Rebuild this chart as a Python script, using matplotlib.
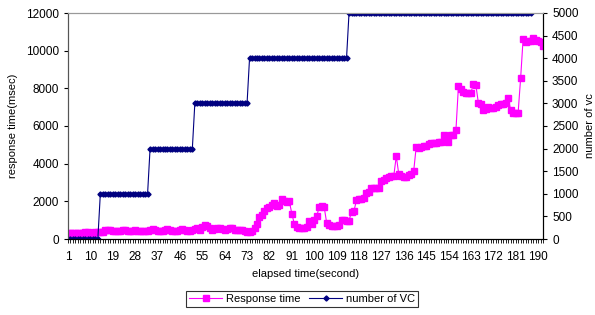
import numpy as np
import matplotlib
matplotlib.use("Agg")
import matplotlib.pyplot as plt

plt.rcParams['font.family'] = ['Liberation Sans', 'DejaVu Sans']

# response time (msec), one value per second
resp_a = [320, 330, 340, 330, 320, 340, 330, 350, 360, 340, 330, 350,
          380, 350, 380, 470, 500, 480, 420, 400,
          410, 440, 500, 480, 430, 420, 440, 480, 450, 420,
          410, 400, 430, 470, 520, 460, 420, 400, 410, 470,
          520, 480, 440, 430, 450, 480, 520, 490, 420, 440,
          460, 520, 560, 500, 620, 760, 700, 560, 500, 520,
          600, 560, 520, 480, 520, 600, 560, 500, 460, 500,
          460, 420, 380, 360, 420, 600]
resp_b = [800, 1150, 1300, 1500, 1650, 1700, 1800, 1900, 1750, 1800,
          2100, 2000, 1950, 2000, 1350, 800, 650, 570, 560, 580,
          650, 950, 800, 1000, 1200, 1700, 1750, 1700, 870, 750,
          700, 680, 700, 750, 1000, 1000, 980, 970, 1450, 1500,
          2050, 2100, 2150, 2200, 2450, 2500, 2700, 2700, 2700, 2700,
          3100, 3150, 3250, 3300, 3350, 3350, 4400, 3450, 3350, 3300,
          3300, 3400, 3450, 3600, 4870, 4820, 4900, 4950, 4950, 5050,
          5080, 5080, 5100, 5170, 5170, 5520, 5260, 5170, 5520, 5520,
          5800, 8120, 7950, 7800, 7750, 7740, 7740, 8230, 8180, 7240,
          7170, 6850, 6900, 7030, 6940, 6950, 7030, 7100, 7170, 7170,
          7200, 7470, 6850, 6710, 6700, 6710, 8530, 10620, 10480, 10530,
          10520, 10650, 10560, 10530, 10480, 10250]
response = resp_a + resp_b

# number of virtual clients (steps)
vc_levels = [0, 1000, 2000, 3000, 4000, 5000]
vc_counts = [13, 20, 18, 22, 40, 74]
vc = [lvl for lvl, n in zip(vc_levels, vc_counts) for _ in range(n)]

x_resp = np.arange(1, len(response) + 1)
x_vc = np.arange(1, len(vc) + 1)
xtick_labels = list(range(1, 191, 9))

fig = plt.figure(figsize=(5.95, 3.15), dpi=100)
ax = fig.add_axes([68/595, 1-239/315, (543-68)/595, (239-13)/315])
ax2 = ax.twinx()

l1, = ax.plot(x_resp, response, color='#FF00FF', lw=0.8, marker='s',
              ms=3.8, mec='#FF00FF', label='Response time')
l2, = ax2.plot(x_vc, vc, color='#000080', lw=0.8, marker='D',
               ms=2.6, mec='#000080', label='number of VC')

ax.set_xlim(1, len(response))
ax.set_ylim(0, 12000)
ax2.set_ylim(0, 5000)
ax.set_yticks(range(0, 12001, 2000))
ax2.set_yticks(range(0, 5001, 500))
ax.set_xticks(xtick_labels)
ax.set_xticks(x_resp, minor=True)
ax.tick_params(axis='x', which='minor', length=3, width=0.6, direction='out')
ax.tick_params(axis='x', which='major', length=3, width=0.6, labelsize=8.5, pad=6)
ax.tick_params(axis='y', length=3, width=0.8, labelsize=8.5)
ax2.tick_params(axis='y', length=3, width=0.8, labelsize=8.5)

for a in (ax, ax2):
    a.spines['top'].set_color('#999999')
    a.spines['top'].set_linewidth(0.8)
    a.spines['left'].set_color('#555555')
    a.spines['right'].set_color('black')
    a.spines['bottom'].set_color('black')

ax.set_xlabel('elapsed time(second)', fontsize=8, labelpad=4)
ax.set_ylabel('response time(msec)', fontsize=8, labelpad=6)
ax2.set_ylabel('number of vc', fontsize=8, rotation=90, labelpad=5)

leg = fig.legend([l1, l2], ['Response time', 'number of VC'], loc='center',
                 bbox_to_anchor=(302/595, 1-299/315), ncol=2, fontsize=8,
                 frameon=True, fancybox=False, edgecolor='black',
                 handlelength=3, columnspacing=0.8, handletextpad=0.3,
                 borderpad=0.3)
leg.get_frame().set_linewidth(0.8)

fig.savefig('out.png', dpi=100)
